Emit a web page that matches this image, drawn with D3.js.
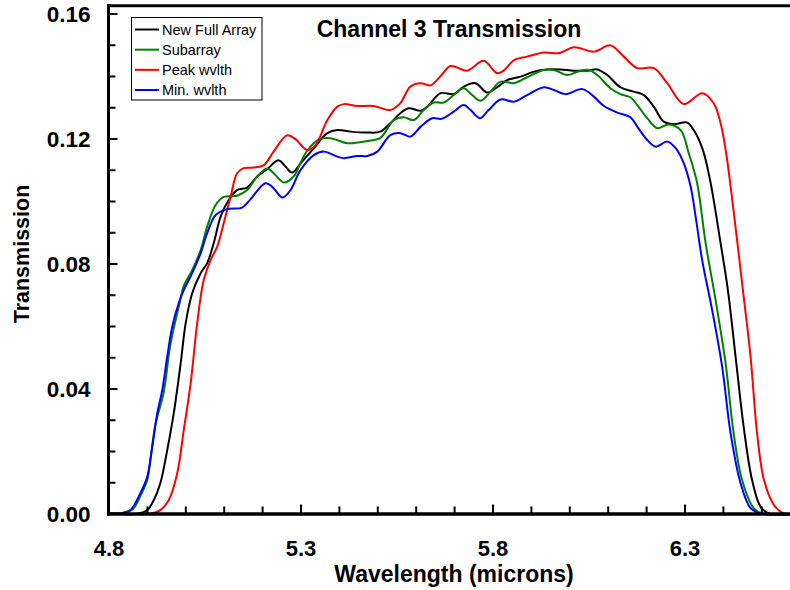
<!DOCTYPE html>
<html>
<head>
<meta charset="utf-8">
<script src="https://cdn.jsdelivr.net/npm/d3@7/dist/d3.min.js"></script>
<style>
  html, body { margin: 0; padding: 0; background: #fff; }
  svg { display: block; font-family: "Liberation Sans", Arial, Helvetica, sans-serif; }
</style>
</head>
<body>
<svg id="chart" width="790" height="590"></svg>
<script>
// Channel 3 filter transmission curves, wavelength in microns
const seriesNames = ["New Full Array", "Subarray", "Peak wvlth", "Min. wvlth"];

const fullArrayWl = [4.800, 4.878, 4.901, 4.918, 4.935, 4.953, 4.970, 4.988, 5.001, 5.018, 5.040, 5.057, 5.074, 5.092, 5.113, 5.135, 5.161, 5.187, 5.213, 5.243, 5.261, 5.278, 5.304, 5.335, 5.370, 5.396, 5.430, 5.474, 5.508, 5.534, 5.560, 5.582, 5.613, 5.630, 5.665, 5.699, 5.725, 5.756, 5.786, 5.812, 5.838, 5.873, 5.908, 5.942, 5.977, 6.012, 6.047, 6.073, 6.099, 6.133, 6.168, 6.194, 6.220, 6.246, 6.272, 6.307, 6.324, 6.348, 6.368, 6.394, 6.413, 6.433, 6.454, 6.476, 6.498, 6.520, 6.600];
const fullArrayT = [0.0000, 0.0000, 0.0011, 0.0043, 0.0097, 0.0203, 0.0321, 0.0481, 0.0609, 0.0705, 0.0769, 0.0801, 0.0865, 0.0950, 0.1003, 0.1035, 0.1043, 0.1078, 0.1102, 0.1130, 0.1110, 0.1091, 0.1126, 0.1169, 0.1217, 0.1227, 0.1222, 0.1219, 0.1222, 0.1249, 0.1281, 0.1297, 0.1289, 0.1302, 0.1345, 0.1342, 0.1366, 0.1377, 0.1347, 0.1364, 0.1387, 0.1398, 0.1414, 0.1421, 0.1421, 0.1417, 0.1417, 0.1421, 0.1403, 0.1364, 0.1350, 0.1339, 0.1302, 0.1254, 0.1246, 0.1251, 0.1227, 0.1163, 0.1058, 0.0865, 0.0715, 0.0502, 0.0278, 0.0107, 0.0022, 0.0000, 0.0000];

const subarrayWl = [4.800, 4.836, 4.863, 4.883, 4.901, 4.909, 4.922, 4.944, 4.961, 4.983, 4.996, 5.018, 5.040, 5.057, 5.079, 5.100, 5.135, 5.161, 5.187, 5.213, 5.230, 5.257, 5.283, 5.300, 5.317, 5.348, 5.378, 5.422, 5.474, 5.508, 5.543, 5.569, 5.595, 5.621, 5.647, 5.673, 5.699, 5.725, 5.747, 5.769, 5.795, 5.821, 5.856, 5.890, 5.934, 5.960, 5.995, 6.029, 6.051, 6.073, 6.107, 6.133, 6.159, 6.177, 6.203, 6.229, 6.259, 6.290, 6.311, 6.333, 6.355, 6.381, 6.407, 6.428, 6.450, 6.480, 6.502, 6.600];
const subarrayT = [0.0000, 0.0002, 0.0014, 0.0056, 0.0107, 0.0171, 0.0283, 0.0389, 0.0539, 0.0662, 0.0728, 0.0779, 0.0843, 0.0918, 0.0987, 0.1013, 0.1017, 0.1035, 0.1078, 0.1104, 0.1089, 0.1059, 0.1080, 0.1122, 0.1160, 0.1197, 0.1201, 0.1185, 0.1192, 0.1202, 0.1259, 0.1268, 0.1259, 0.1291, 0.1315, 0.1315, 0.1339, 0.1361, 0.1339, 0.1321, 0.1350, 0.1382, 0.1377, 0.1396, 0.1419, 0.1419, 0.1403, 0.1417, 0.1419, 0.1403, 0.1361, 0.1342, 0.1332, 0.1307, 0.1265, 0.1233, 0.1245, 0.1227, 0.1153, 0.1057, 0.0865, 0.0683, 0.0481, 0.0257, 0.0107, 0.0017, 0.0000, 0.0000];

const peakWl = [4.800, 4.909, 4.935, 4.957, 4.979, 4.996, 5.014, 5.031, 5.048, 5.066, 5.083, 5.100, 5.118, 5.135, 5.152, 5.178, 5.204, 5.230, 5.265, 5.287, 5.317, 5.339, 5.370, 5.396, 5.413, 5.448, 5.491, 5.534, 5.560, 5.586, 5.613, 5.639, 5.665, 5.691, 5.734, 5.777, 5.812, 5.829, 5.856, 5.890, 5.934, 5.973, 6.012, 6.064, 6.107, 6.142, 6.177, 6.220, 6.255, 6.298, 6.346, 6.376, 6.394, 6.408, 6.430, 6.450, 6.472, 6.489, 6.507, 6.533, 6.559, 6.600];
const peakT = [0.0000, 0.0000, 0.0011, 0.0043, 0.0129, 0.0267, 0.0417, 0.0609, 0.0747, 0.0811, 0.0854, 0.0929, 0.1014, 0.1089, 0.1105, 0.1107, 0.1114, 0.1158, 0.1210, 0.1198, 0.1163, 0.1179, 0.1259, 0.1302, 0.1310, 0.1304, 0.1304, 0.1291, 0.1313, 0.1366, 0.1377, 0.1370, 0.1400, 0.1432, 0.1417, 0.1449, 0.1409, 0.1417, 0.1451, 0.1462, 0.1475, 0.1473, 0.1492, 0.1478, 0.1498, 0.1462, 0.1425, 0.1425, 0.1377, 0.1310, 0.1345, 0.1313, 0.1249, 0.1157, 0.0946, 0.0737, 0.0502, 0.0257, 0.0107, 0.0027, 0.0000, 0.0000];

const minWl = [4.800, 4.831, 4.857, 4.883, 4.901, 4.914, 4.927, 4.940, 4.953, 4.966, 4.983, 4.996, 5.018, 5.040, 5.057, 5.079, 5.109, 5.148, 5.170, 5.209, 5.230, 5.253, 5.274, 5.300, 5.335, 5.361, 5.396, 5.413, 5.448, 5.474, 5.500, 5.534, 5.560, 5.586, 5.613, 5.643, 5.667, 5.699, 5.725, 5.743, 5.767, 5.790, 5.821, 5.856, 5.890, 5.934, 5.960, 5.990, 6.034, 6.064, 6.090, 6.125, 6.159, 6.177, 6.203, 6.225, 6.255, 6.277, 6.298, 6.316, 6.329, 6.346, 6.372, 6.398, 6.420, 6.446, 6.472, 6.498, 6.600];
const minT = [0.0000, 0.0000, 0.0011, 0.0065, 0.0118, 0.0214, 0.0321, 0.0395, 0.0502, 0.0598, 0.0673, 0.0715, 0.0769, 0.0833, 0.0897, 0.0955, 0.0974, 0.0979, 0.1006, 0.1057, 0.1041, 0.1011, 0.1035, 0.1099, 0.1147, 0.1158, 0.1142, 0.1137, 0.1144, 0.1144, 0.1158, 0.1211, 0.1217, 0.1206, 0.1238, 0.1265, 0.1263, 0.1286, 0.1307, 0.1291, 0.1265, 0.1291, 0.1325, 0.1318, 0.1339, 0.1364, 0.1355, 0.1342, 0.1358, 0.1334, 0.1304, 0.1283, 0.1268, 0.1238, 0.1195, 0.1174, 0.1190, 0.1169, 0.1121, 0.1046, 0.0950, 0.0811, 0.0651, 0.0470, 0.0257, 0.0097, 0.0017, 0.0000, 0.0000];

const xTickValues = [4.8, 5.3, 5.8, 6.3];
const yTickValues = [0.00, 0.04, 0.08, 0.12, 0.16];
const titleText = "Channel 3 Transmission";
const xTitle = "Wavelength (microns)";
const yTitle = "Transmission";

const colors = ["#000000", "#008000", "#ff0000", "#0000ff"];

const svg = d3.select("#chart");

const x = d3.scaleLinear().domain([4.8, 6.6]).range([108.5, 108.5 + 1.8 * 384]);
const y = d3.scaleLinear().domain([0, 0.16]).range([513.5, 13.5]);

const series = [
  { name: seriesNames[0], wl: fullArrayWl, t: fullArrayT, color: colors[0] },
  { name: seriesNames[1], wl: subarrayWl, t: subarrayT, color: colors[1] },
  { name: seriesNames[2], wl: peakWl, t: peakT, color: colors[2] },
  { name: seriesNames[3], wl: minWl, t: minT, color: colors[3] }
];

// smooth curves through the sampled points
const line = d3.line()
  .x(d => x(d[0]))
  .y(d => Math.min(y(d[1]), y(0)))
  .curve(d3.curveCatmullRom.alpha(0.5));

svg.append("g").selectAll("path")
  .data(series)
  .join("path")
  .attr("fill", "none")
  .attr("stroke", d => d.color)
  .attr("stroke-width", 2)
  .attr("stroke-linejoin", "round")
  .attr("d", d => line(d.wl.map((w, i) => [w, d.t[i]])));

// frame: top edge
svg.append("line")
  .attr("x1", x(4.8) - 1.5).attr("x2", 790)
  .attr("y1", y(0.1625)).attr("y2", y(0.1625))
  .attr("stroke", "#000").attr("stroke-width", 3);

// minor ticks, x
const xMinor = d3.range(48, 66, 1).map(v => v / 10);
svg.append("g")
  .attr("transform", `translate(0,${y(0)})`)
  .call(d3.axisBottom(x).tickValues(xMinor).tickSizeInner(-7).tickSizeOuter(0).tickFormat(""))
  .call(g => g.select(".domain").remove())
  .call(g => g.selectAll(".tick line").attr("stroke", "#000").attr("stroke-width", 2));

// major ticks + labels, x
svg.append("g")
  .attr("transform", `translate(0,${y(0)})`)
  .call(d3.axisBottom(x).tickValues(xTickValues).tickSizeInner(-9).tickSizeOuter(0).tickFormat(d3.format(".1f")))
  .call(g => g.select(".domain").remove())
  .call(g => g.selectAll(".tick line").attr("stroke", "#000").attr("stroke-width", 2))
  .call(g => g.selectAll(".tick text")
    .attr("y", 42).attr("dy", null)
    .attr("fill", "#000")
    .style("font-size", "22px").style("font-weight", "bold")
    .style("font-family", "'Liberation Sans', Arial, sans-serif"));

// minor ticks, y
const yMinor = d3.range(0, 17, 1).map(v => v / 100);
svg.append("g")
  .attr("transform", `translate(${x(4.8)},0)`)
  .call(d3.axisLeft(y).tickValues(yMinor).tickSizeInner(-7).tickSizeOuter(0).tickFormat(""))
  .call(g => g.select(".domain").remove())
  .call(g => g.selectAll(".tick line").attr("stroke", "#000").attr("stroke-width", 2));

// major ticks + labels, y
svg.append("g")
  .attr("transform", `translate(${x(4.8)},0)`)
  .call(d3.axisLeft(y).tickValues(yTickValues).tickSizeInner(-9).tickSizeOuter(0).tickFormat(d3.format(".2f")))
  .call(g => g.select(".domain").remove())
  .call(g => g.selectAll(".tick line").attr("stroke", "#000").attr("stroke-width", 2))
  .call(g => g.selectAll(".tick text")
    .attr("x", -18).attr("dy", "0.36em")
    .attr("fill", "#000")
    .style("font-size", "22.5px").style("font-weight", "bold")
    .style("font-family", "'Liberation Sans', Arial, sans-serif"));

// axis lines
svg.append("line")
  .attr("x1", x(4.8)).attr("x2", x(4.8))
  .attr("y1", y(0.1625) - 1.5).attr("y2", y(0) + 2)
  .attr("stroke", "#000").attr("stroke-width", 3);
svg.append("line")
  .attr("x1", x(4.8) - 1.5).attr("x2", 790)
  .attr("y1", y(0) + 0.5).attr("y2", y(0) + 0.5)
  .attr("stroke", "#000").attr("stroke-width", 3.5);

// titles
svg.append("text")
  .attr("x", 449).attr("y", 37)
  .attr("text-anchor", "middle")
  .style("font-size", "23px").style("font-weight", "bold")
  .text(titleText);

svg.append("text")
  .attr("x", 454).attr("y", 582)
  .attr("text-anchor", "middle")
  .style("font-size", "23px").style("font-weight", "bold")
  .text(xTitle);

svg.append("text")
  .attr("transform", "translate(29,254) rotate(-90)")
  .attr("text-anchor", "middle")
  .style("font-size", "21.5px").style("font-weight", "bold")
  .text(yTitle);

// legend
const legend = svg.append("g");
legend.append("rect")
  .attr("x", 131.5).attr("y", 17.5).attr("width", 130.5).attr("height", 82.5)
  .attr("fill", "#fff").attr("stroke", "#000").attr("stroke-width", 1);

const rowY = d3.scalePoint().domain(seriesNames).range([29.5, 90]);
const rows = legend.selectAll("g.row").data(series).join("g").attr("class", "row")
  .attr("transform", d => `translate(0,${rowY(d.name)})`);
rows.append("line")
  .attr("x1", 135).attr("x2", 159).attr("y1", 0).attr("y2", 0)
  .attr("stroke", d => d.color).attr("stroke-width", 2);
rows.append("text")
  .attr("x", 162).attr("y", 0).attr("dy", "0.36em")
  .style("font-size", "14.5px")
  .text(d => d.name);
</script>
</body>
</html>
